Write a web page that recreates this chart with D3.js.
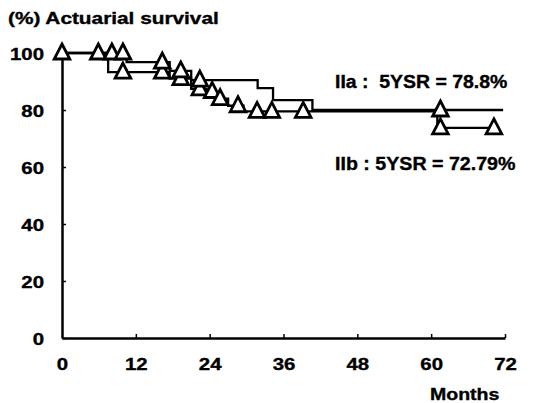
<!DOCTYPE html>
<html>
<head>
<meta charset="utf-8" />
<title>Actuarial survival</title>
<style type="text/css">
  body { margin: 0; background: #fff; }
  svg text { font-family: 'Liberation Sans', Arial, sans-serif; font-weight: bold; fill: #000;
    stroke: #000; stroke-width: 0.35; white-space: pre; }
</style>
</head>
<body>
<div id="chart"></div>
<script src="https://d3js.org/d3.v7.min.js"></script>
<script>
// values: months vs actuarial survival (%)
var monthTicks = [0, 12, 24, 36, 48, 60, 72];
var pctTicks = [0, 20, 40, 60, 80, 100];

// step points [month, %]; last point = end of follow-up
var stepsIIa = [[0,100],[10.5,96.8],[17.5,93.7],[21,90.5],[31.8,87.7],[34.3,83.5],[40.7,80],[71.7,80]];
var censorIIa = [[0,100],[5.9,100],[8.1,100],[9.9,100],[16.3,96.8],[19.3,93.7],[22.4,90.5],[61.5,80]];

var stepsIIb = [[0,100],[7.5,93.3],[17.5,91],[21,87.4],[23.5,86.5],[25,84],[27,81.5],[29.5,79.5],[61,73.7],[70.2,73.7]];
var censorIIb = [[9.9,93.3],[16.3,93.3],[19.3,91],[22.4,87.4],[24.4,86.5],[25.7,84],[28.6,81.5],[31.7,79.5],[34.1,79.5],[39.2,79.5],[61.5,73.7],[70.2,73.7]];

var labelIIa = 'IIa :  5YSR = 78.8%';
var labelIIb = 'IIb : 5YSR = 72.79%';

var width = 542, height = 403;
var svg = d3.select('#chart').append('svg')
  .attr('width', width).attr('height', height);

var x = d3.scaleLinear().domain([0, 72]).range([62, 505]);
var y = d3.scaleLinear().domain([0, 100]).range([338, 53]);

// stretch text horizontally like the scanned original
function stretch(sel, k) {
  sel.each(function() {
    var w = this.getComputedTextLength();
    d3.select(this).attr('textLength', w * k).attr('lengthAdjust', 'spacingAndGlyphs');
  });
}

// y axis
var gy = svg.append('g').attr('transform', 'translate(' + x(0) + ',0)')
  .call(d3.axisLeft(y).tickValues(pctTicks).tickSize(-4).tickSizeOuter(0).tickPadding(18));
gy.select('.domain').attr('stroke-width', 2.5);
gy.selectAll('.tick line').attr('stroke-width', 1.5);
gy.selectAll('.tick text').attr('font-size', 17).attr('dy', '0.36em')
  .attr('font-family', null).call(stretch, 1.2);

// x axis
var gx = svg.append('g').attr('transform', 'translate(0,' + y(0) + ')')
  .call(d3.axisBottom(x).tickValues(monthTicks).tickSize(-4).tickSizeOuter(0).tickPadding(20));
gx.select('.domain').attr('stroke-width', 2.5);
gx.selectAll('.tick line').attr('stroke-width', 1.5);
gx.selectAll('.tick text').attr('font-size', 17).attr('font-family', null).call(stretch, 1.2);
gx.selectAll('.tick').filter(function(d) { return d === 0; }).select('line').remove();

// survival curves
var line = d3.line().x(function(d) { return x(d[0]); }).y(function(d) { return y(d[1]); })
  .curve(d3.curveStepAfter);

[stepsIIa, stepsIIb].forEach(function(s) {
  svg.append('path').datum(s).attr('d', line)
    .attr('fill', 'none').attr('stroke', '#000').attr('stroke-width', 2.3);
});

// censored marks
var tri = 'M0,-9L7.8,6L-7.8,6Z';
svg.selectAll('path.cens')
  .data(censorIIb.concat(censorIIa))
  .enter().append('path').attr('class', 'cens')
  .attr('d', tri)
  .attr('transform', function(d) { return 'translate(' + x(d[0]) + ',' + y(d[1]) + ')'; })
  .attr('fill', '#fff').attr('stroke', '#000').attr('stroke-width', 2.8)
  .attr('stroke-linejoin', 'miter');

// texts
svg.append('text').attr('x', 8).attr('y', 24).attr('font-size', 16)
  .text('(%) Actuarial survival').call(stretch, 1.3);
svg.append('text').attr('x', 335).attr('y', 88).attr('font-size', 18)
  .text(labelIIa).call(stretch, 1.08);
svg.append('text').attr('x', 335).attr('y', 170).attr('font-size', 18)
  .text(labelIIb).call(stretch, 1.09);
svg.append('text').attr('x', 430).attr('y', 400).attr('font-size', 16)
  .text('Months').call(stretch, 1.22);
</script>
</body>
</html>
